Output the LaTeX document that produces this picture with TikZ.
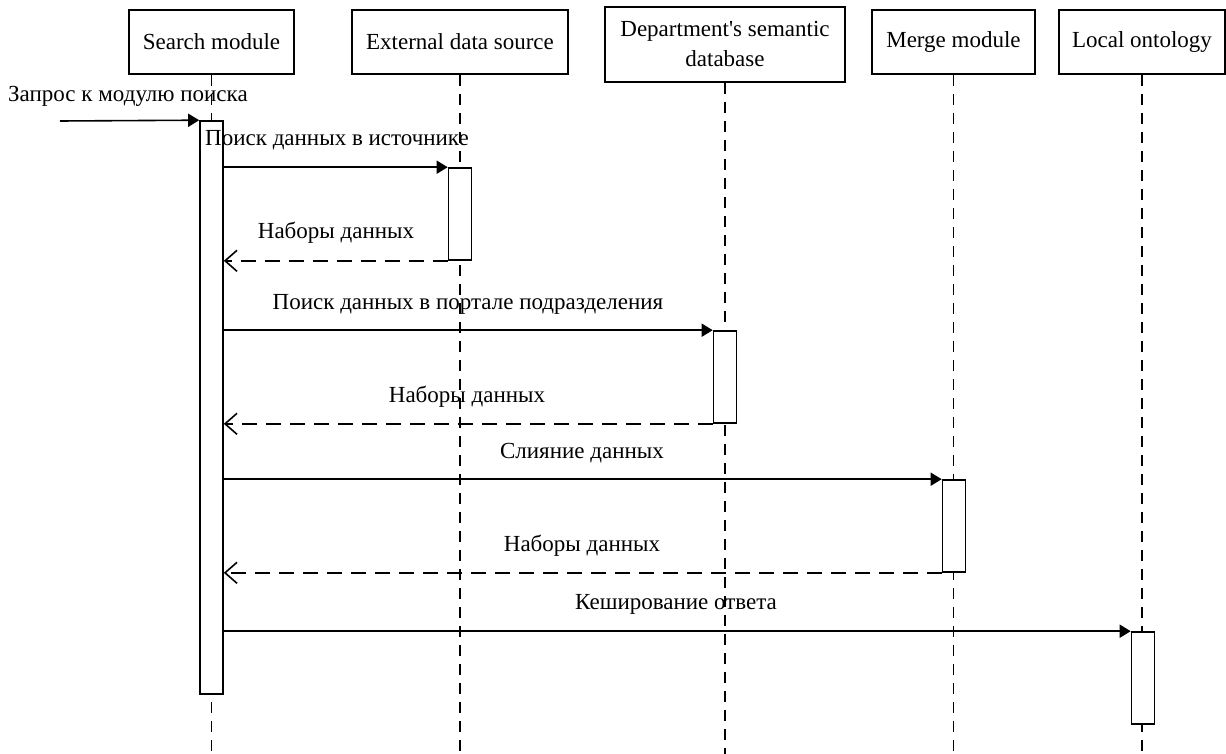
\documentclass[tikz,border=0pt]{standalone}
\usepackage{fontspec}
\setmainfont{Liberation Serif}[Ligatures=TeXOff]
\usetikzlibrary{arrows.meta}
\begin{document}
\begin{tikzpicture}[x=1pt,y=-1pt,
  every node/.style={font=\fontsize{23}{30}\selectfont, inner sep=0pt},
  head/.style={draw, line width=1.6pt, fill=white, align=center},
  lifeline/.style={line width=1.7pt, dash pattern=on 11pt off 8pt},
  actbar/.style={draw, line width=1.6pt, fill=white, minimum width=23pt},
  call/.style={line width=1.6pt, -{Triangle[length=11pt,width=13pt]}},
  reply/.style={line width=1.6pt, dash pattern=on 15pt off 9pt, -{Straight Barb[length=12pt,width=21pt,line width=1.6pt]}},
  lbl/.style={anchor=base}]
\useasboundingbox (0,0) rectangle (1226,754);

% participants
\node[head, minimum width=165pt, minimum height=64pt] (search) at (211.5,42) {Search module};
\node[head, minimum width=216pt, minimum height=64pt] (ext) at (460,42) {External data source};
\node[head, minimum width=240pt, minimum height=75pt] (dept) at (725,44.5) {Department's semantic\\database};
\node[head, minimum width=163pt, minimum height=64pt] (merge) at (953.5,42) {Merge module};
\node[head, minimum width=166pt, minimum height=64pt] (local) at (1142,42) {Local ontology};

% lifelines
\foreach \p in {search,ext,dept,merge,local}
  \draw[lifeline] (\p.south) -- (\p.south |- 0,754);

% activation bars
\node[actbar, minimum height=573pt] (sa) at (211.5,407.5) {};
\node[actbar, minimum height=92pt] (ea) at (460,214) {};
\node[actbar, minimum height=92pt] (da) at (725,377) {};
\node[actbar, minimum height=92pt] (ma) at (954,526) {};
\node[actbar, minimum height=92pt] (la) at (1143,678) {};

% incoming request
\coordinate (start) at (60,121);
\draw[call] (start) -- (sa.north west);
\node[anchor=west] (qlbl) at (8,96) {Запрос к модулю поиска};

% messages and replies
\draw[call] (sa.east |- ea.north west) -- (ea.north west);
\node[lbl] (m1) at (337,146) {Поиск данных в источнике};
\draw[reply] (ea.south west) -- (sa.east |- ea.south west);
\node[lbl] (r1) at (336,239) {Наборы данных};

\draw[call] (sa.east |- da.north west) -- (da.north west);
\node[lbl] (m2) at (468,309) {Поиск данных в портале подразделения};
\draw[reply] (da.south west) -- (sa.east |- da.south west);
\node[lbl] (r2) at (467,402) {Наборы данных};

\draw[call] (sa.east |- ma.north west) -- (ma.north west);
\node[lbl] (m3) at (582,458) {Слияние данных};
\draw[reply] (ma.south west) -- (sa.east |- ma.south west);
\node[lbl] (r3) at (582,551) {Наборы данных};

\draw[call] (sa.east |- la.north west) -- (la.north west);
\node[lbl] (m4) at (676,609) {Кеширование ответа};
\end{tikzpicture}
\end{document}
